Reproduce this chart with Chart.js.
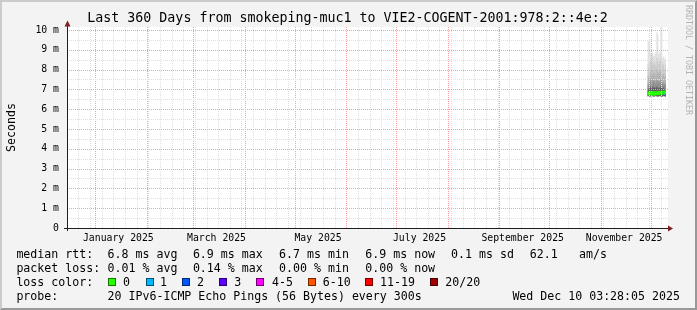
<!DOCTYPE html>
<html>
<head>
<meta charset="utf-8">
<title>smokeping muc1 - VIE2-COGENT</title>
<script src="https://cdn.jsdelivr.net/npm/chart.js@4.4.1/dist/chart.umd.min.js"></script>
<style>
  html, body { margin: 0; padding: 0; background: #f3f3f3; }
  #wrap { position: relative; width: 697px; height: 310px; overflow: hidden; background: #f3f3f3;
          font-family: 'DejaVu Sans Mono', monospace; color: #000; }
  #graph { position: absolute; left: 0; top: 0; }
  .edge { position: absolute; left: 0; top: 0; width: 697px; height: 310px; box-sizing: border-box;
          border: 2px solid; border-color: #cbcbcb #999 #999 #cbcbcb; pointer-events: none; }
  #title { position: absolute; left: 0; top: 9.5px; width: 695px; text-align: center;
           font-size: 13.3px; line-height: 16px; white-space: pre; }
  .txt { position: absolute; font-size: 11.6px; line-height: 14px; white-space: pre; }
  .box { position: absolute; width: 8px; height: 8px; box-sizing: border-box; border: 1px solid rgba(0,0,0,0.55); }
  #mark { position: absolute; left: 684px; top: 5px; writing-mode: vertical-rl; font-size: 8.3px;
          line-height: 9px; color: #b4b4b4; white-space: pre; }
</style>
</head>
<body>
<div id="wrap">
  <canvas id="graph" width="697" height="310"></canvas>
  <div id="title"></div>
  <div id="legend"></div>
  <div id="mark">RRDTOOL / TOBI OETIKER</div>
  <div class="edge"></div>
</div>
<script>
// graph window: 360 days ending Wed Dec 10 03:28:05 2025
const startMs = Date.UTC(2024, 11, 15, 3, 28, 5);
const spanDays = 360;
const titleText = 'Last 360 Days from smokeping-muc1 to VIE2-COGENT-2001:978:2::4e:2';

// one entry per consolidated step (days since graph start), last one closes the step
const stepDays  = [348.8, 349.4, 350.0, 350.6, 351.2, 351.8, 352.4, 353.0, 353.6, 354.2,
                   354.8, 355.4, 356.0, 356.6, 357.2, 357.8, 358.4, 359.0, 359.6, 360.0];
const medianRtt = [6.80, 6.82, 6.78, 6.80, 6.84, 6.80, 6.76, 6.80, 6.83, 6.80,
                   6.78, 6.80, 6.84, 6.80, 6.82, 6.86, 6.80, 6.84, 6.86, 6.86];
const lossCount = [0, 0, 0, 0, 0, 0, 0, 0, 0, 0, 0, 0, 0, 0, 0, 0, 1, 0, 0, 0];
// smoke: ping rtt envelopes (ms)
const pingMin   = [6.65, 6.66, 6.64, 6.65, 6.66, 6.65, 6.64, 6.65, 6.66, 6.65,
                   6.64, 6.65, 6.66, 6.65, 6.64, 6.65, 6.66, 6.65, 6.64, 6.64];
const smokeMax  = [9.5, 9.4, 9.5, 8.9, 8.8, 8.9, 8.7, 8.8, 8.9, 9.9,
                   9.8, 8.8, 8.9, 10.4, 10.3, 8.6, 8.7, 8.5, 8.6, 8.6];
const smokeHigh = [8.3, 8.1, 8.4, 8.5, 8.2, 8.6, 8.3, 8.4, 8.2, 8.6,
                   8.5, 8.3, 8.5, 8.6, 8.4, 8.2, 8.3, 8.0, 8.2, 8.2];
const smokeMid  = [7.7, 7.6, 7.8, 7.9, 7.7, 8.0, 7.8, 7.9, 7.7, 8.0,
                   7.9, 7.8, 7.9, 8.0, 7.8, 7.7, 7.8, 7.6, 7.7, 7.7];
const smokeLow  = [7.30, 7.25, 7.40, 7.50, 7.35, 7.50, 7.40, 7.45, 7.30, 7.50,
                   7.45, 7.35, 7.40, 7.50, 7.40, 7.30, 7.35, 7.25, 7.30, 7.30];
const smokeCore = [7.05, 7.00, 7.10, 7.15, 7.05, 7.15, 7.10, 7.10, 7.05, 7.15,
                   7.10, 7.05, 7.10, 7.15, 7.10, 7.05, 7.10, 7.00, 7.05, 7.05];

const yTickValues = [0, 1, 2, 3, 4, 5, 6, 7, 8, 9, 10];
const yTickLabels = ['0', '1 m', '2 m', '3 m', '4 m', '5 m', '6 m', '7 m', '8 m', '9 m', '10 m'];
const monthLabels = ['January 2025', 'March 2025', 'May 2025', 'July 2025', 'September 2025', 'November 2025'];
const monthLabelAt = [[2025, 0, 15], [2025, 2, 15], [2025, 4, 15], [2025, 6, 15], [2025, 8, 15], [2025, 10, 15]];

const lossLabels = ['0', '1', '2', '3', '4-5', '6-10', '11-19', '20/20'];
const lossColors = ['#26ff00', '#00b8ff', '#0059ff', '#5e00ff', '#ff00ff', '#ff5500', '#ff0000', '#a00000'];
const rttStats  = ['6.8 ms avg', '6.9 ms max', '6.7 ms min', '6.9 ms now', '0.1 ms sd', '62.1', 'am/s'];
const lossStats = ['0.01 % avg', '0.14 % max', '0.00 % min', '0.00 % now'];
const probeText = '20 IPv6-ICMP Echo Pings (56 Bytes) every 300s';
const stampText = 'Wed Dec 10 03:28:05 2025';

const smokeColors = ['#e2e2e2', '#cdcdcd', '#b4b4b4', '#929292', '#5e5e5e'];
const minorGrid = '#e0e0e0';
const majorGrid = '#ff9c9c';

function dayOf(y, m, d) { return (Date.UTC(y, m, d) - startMs) / 864e5; }
function lossIndex(n) {
    if (n <= 3) return n;
    if (n <= 5) return 4;
    if (n <= 10) return 5;
    if (n <= 19) return 6;
    return 7;
}

// x grid: weekly (Sunday) minor lines, month starts major; labels sit mid-month
const xMinor = [];
for (let t = dayOf(2024, 11, 22); t <= spanDays; t += 7) xMinor.push(t);
const xMajor = [];
for (let m = 0; m < 12; m++) xMajor.push(dayOf(2025, m, 1));
const xTickValues = monthLabelAt.map(([y, m, d]) => dayOf(y, m, d));

const pts = arr => stepDays.map((d, i) => ({ x: d, y: arr[i] }));
const smokeBand = (arr, color, order) => ({
    data: pts(arr), fill: 0, backgroundColor: color, borderColor: 'rgba(0,0,0,0)',
    borderWidth: 0, pointRadius: 0, stepped: true, order: order
});

// rrdtool style: white canvas, dotted grid drawn over the graph, axis with arrows
const framePlugin = {
    id: 'frame',
    beforeDraw(chart) {
        const { ctx, chartArea: a } = chart;
        ctx.save();
        ctx.fillStyle = '#ffffff';
        ctx.fillRect(a.left, a.top, a.right - a.left + 2, a.bottom - a.top);
        ctx.restore();
    },
    afterDatasetsDraw(chart) {
        const { ctx, chartArea: a, scales } = chart;
        ctx.save();
        const vline = (px, color) => {
            ctx.fillStyle = color;
            for (let y = Math.round(a.top); y < a.bottom; y += 2) ctx.fillRect(px, y, 1, 1);
        };
        const hline = (py, color) => {
            ctx.fillStyle = color;
            for (let x = Math.round(a.left); x < a.right + 2; x += 2) ctx.fillRect(x, py, 1, 1);
        };
        const isMajorDay = v => xMajor.some(m => Math.abs(m - v) < 0.01);
        xMinor.filter(v => !isMajorDay(v))
              .forEach(v => vline(Math.round(scales.x.getPixelForValue(v)), minorGrid));
        xMajor.forEach(v => vline(Math.round(scales.x.getPixelForValue(v)), majorGrid));
        yTickValues.slice(0, -1).forEach(v => hline(Math.round(scales.y.getPixelForValue(v + 0.5)), minorGrid));
        yTickValues.forEach(v => hline(Math.round(scales.y.getPixelForValue(v)), majorGrid));
        ctx.restore();
    },
    afterDraw(chart) {
        const { ctx, chartArea: a } = chart;
        const x0 = a.left + 0.5, y0 = a.bottom + 0.5;
        ctx.save();
        ctx.strokeStyle = '#1f1f1f';
        ctx.lineWidth = 1;
        ctx.beginPath();
        ctx.moveTo(a.left - 3, y0); ctx.lineTo(a.right + 2, y0);
        ctx.moveTo(x0, a.bottom + 3); ctx.lineTo(x0, a.top - 2);
        ctx.stroke();
        ctx.fillStyle = '#7f1f1f';
        ctx.beginPath();
        ctx.moveTo(x0 - 3, a.top - 0.5); ctx.lineTo(x0 + 3, a.top - 0.5); ctx.lineTo(x0, a.top - 6.5);
        ctx.closePath(); ctx.fill();
        ctx.beginPath();
        ctx.moveTo(a.right + 2, y0 - 3); ctx.lineTo(a.right + 2, y0 + 3); ctx.lineTo(a.right + 7, y0);
        ctx.closePath(); ctx.fill();
        ctx.restore();
    }
};

Chart.defaults.font.family = "'DejaVu Sans Mono', monospace";
Chart.defaults.color = '#000';

new Chart(document.getElementById('graph').getContext('2d'), {
    type: 'line',
    data: {
        datasets: [
            { data: pts(pingMin), fill: false, borderColor: 'rgba(0,0,0,0)', borderWidth: 0, pointRadius: 0, stepped: true, order: 10 },
            smokeBand(smokeMax, smokeColors[0], 9),
            smokeBand(smokeHigh, smokeColors[1], 8),
            smokeBand(smokeMid, smokeColors[2], 7),
            smokeBand(smokeLow, smokeColors[3], 6),
            smokeBand(smokeCore, smokeColors[4], 5),
            {
                data: pts(medianRtt), fill: false, borderWidth: 3, pointRadius: 0, stepped: true, order: 0,
                borderColor: lossColors[0],
                segment: { borderColor: c => lossColors[lossIndex(lossCount[c.p0DataIndex])] }
            }
        ]
    },
    options: {
        responsive: false,
        animation: false,
        events: [],
        layout: { padding: { left: 0, right: 31, top: 27, bottom: 0 } },
        plugins: {
            legend: { display: false },
            tooltip: { enabled: false },
            title: { display: false }
        },
        scales: {
            x: {
                type: 'linear', min: 0, max: spanDays, bounds: 'data',
                afterBuildTicks: s => { s.ticks = xTickValues.map(v => ({ value: v })); },
                afterFit: s => { s.height = 82; },
                ticks: {
                    autoSkip: false, maxRotation: 0, minRotation: 0, padding: 4.5, color: '#000',
                    font: { size: 9.8 },
                    callback: (v, i) => monthLabels[i]
                },
                grid: { display: false, drawTicks: false },
                border: { display: false }
            },
            y: {
                type: 'linear', min: 0, max: 10.15, bounds: 'data',
                afterBuildTicks: s => { s.ticks = yTickValues.map(v => ({ value: v })); },
                afterFit: s => { s.width = 67; },
                ticks: {
                    autoSkip: false, padding: 8, color: '#000', font: { size: 9.8 },
                    callback: (v, i) => yTickLabels[i]
                },
                grid: { display: false, drawTicks: false },
                border: { display: false },
                title: {
                    display: true, text: 'Seconds', color: '#000',
                    font: { size: 11.6, lineHeight: 1.2 }, padding: { top: 5, bottom: 0 }
                }
            }
        }
    },
    plugins: [framePlugin]
});

document.getElementById('title').textContent = titleText;

// legend block under the graph
const legend = document.getElementById('legend');
function addText(str, x, top) {
    const el = document.createElement('div');
    el.className = 'txt';
    el.style.left = x + 'px';
    el.style.top = top + 'px';
    el.textContent = str;
    legend.appendChild(el);
}
const statX = [107.6, 192.9, 279.1, 365.3, 451.1, 529.8, 579.1];
const rowTop = [247, 261, 275, 289];

addText('median rtt:', 16.4, rowTop[0]);
rttStats.forEach((s, i) => addText(s, statX[i], rowTop[0]));
addText('packet loss:', 16.4, rowTop[1]);
lossStats.forEach((s, i) => addText(s, statX[i], rowTop[1]));
addText('loss color:', 16.4, rowTop[2]);
const boxX = [108.4, 145.8, 182.2, 219.1, 256.4, 307.6, 365.3, 429.8];
const boxLabelX = [123.1, 160, 196.9, 234.2, 272, 322.7, 380, 445.3];
lossLabels.forEach((lbl, i) => {
    const b = document.createElement('div');
    b.className = 'box';
    b.style.left = boxX[i] + 'px';
    b.style.top = (rowTop[2] + 3) + 'px';
    b.style.background = lossColors[i];
    legend.appendChild(b);
    addText(lbl, boxLabelX[i], rowTop[2]);
});
addText('probe:', 16.4, rowTop[3]);
addText(probeText, 107.6, rowTop[3]);
addText(stampText, 512.4, rowTop[3]);
</script>
</body>
</html>
